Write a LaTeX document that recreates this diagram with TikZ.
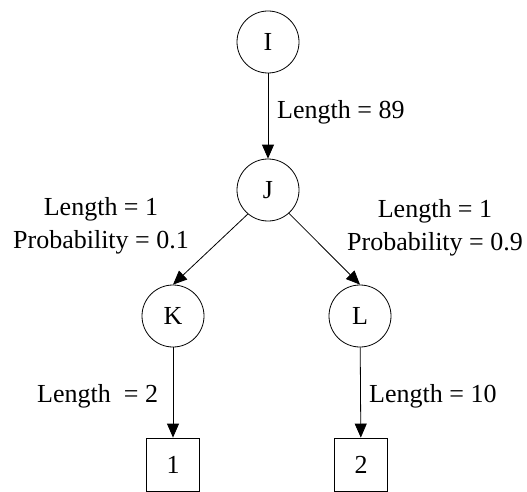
\documentclass[tikz,border=0pt]{standalone}
\usepackage{fontspec}
\setmainfont{Liberation Serif}
\usetikzlibrary{arrows.meta}
\tikzset{
  state/.style={circle,draw,line width=0.8pt,minimum size=62pt,inner sep=0pt,font=\fontsize{26}{31}\selectfont},
  leaf/.style={rectangle,draw,line width=0.8pt,minimum size=53pt,inner sep=0pt,font=\fontsize{26}{31}\selectfont},
  edge/.style={line width=0.8pt,-{Triangle[length=14pt,width=12pt]}},
  lbl/.style={font=\fontsize{26}{33}\selectfont,align=center,inner sep=0pt}
}
\begin{document}
\begin{tikzpicture}[x=1pt,y=-1pt]
    \useasboundingbox (0,0) rectangle (527,492);

    % Simpul
    \node[state] (I) at (268,42) {I};
    \node[state] (J) at (268,190) {J};
    \node[state] (K) at (173,316) {K};
    \node[state] (L) at (360,316) {L};
    \node[leaf] (one) at (173,464.5) {1};
    \node[leaf] (two) at (361,464.5) {2};

    % Busur
    \draw[edge] (I) -- (J);
    \draw[edge] (J.230) -- (K.north);
    \draw[edge] (J.312) -- (L.north);
    \draw[edge] (K) -- (one);
    \draw[edge] (L) -- (two);

    % Label
    \node[lbl,anchor=base west] (lIJ) at (277,118) {Length = 89};
    \node[lbl] (lJK) at (101,226) {Length = 1\\Probability = 0.1};
    \node[lbl] (lJL) at (435,228) {Length = 1\\Probability = 0.9};
    \node[lbl,anchor=base west] (lK) at (37,402) {Length~ = 2};
    \node[lbl,anchor=base west] (lL) at (369,402) {Length = 10};
\end{tikzpicture}
\end{document}
